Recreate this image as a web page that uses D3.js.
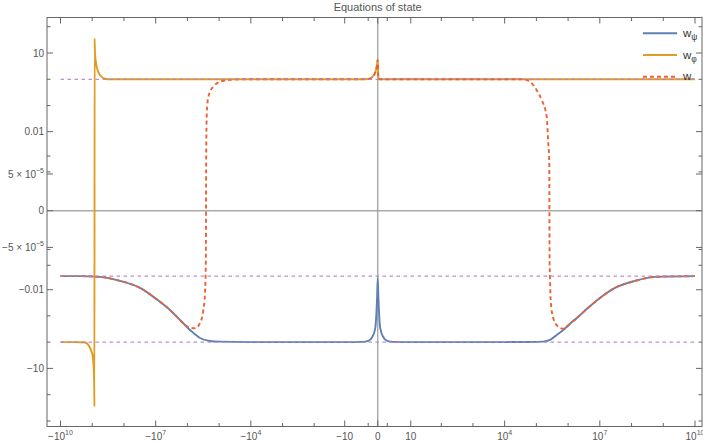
<!DOCTYPE html>
<html><head><meta charset="utf-8">
<script src="https://cdn.jsdelivr.net/npm/d3@7"></script>
<style>body{margin:0;background:#fff} svg{display:block} text{font-family:"Liberation Sans",Arial,sans-serif}</style>
</head><body><svg id="c" width="703" height="442"></svg>
<script>
// ---- tick definitions ----
const xTicksMajor = [-1e10,-1e7,-1e4,-10,0,10,1e4,1e7,1e10];
const xTickLabels = [["−10","10"],["−10","7"],["−10","4"],["−10",""],["0",""],["10",""],["10","4"],["10","7"],["10","10"]];
const xTicksMinor = [-1e9,-1e8,-1e6,-1e5,-1e3,-100,-1,1,100,1e3,1e5,1e6,1e8,1e9];
const yTicksMajor = [10,0.01,5e-5,0,-5e-5,-0.01,-10];
const yTickLabels = [["10",""],["0.01",""],["5 × 10","−5"],["0",""],["−5 × 10","−5"],["−0.01",""],["−10",""]];
const yTicksMinor = [100,1,0.1,1e-3,1e-4,-1e-4,-1e-3,-0.1,-1,-100,-1000];
const refLevels = [1,-0.0029,-1];

// ---- series ----
const psiX = [-1e10,-2.43e9,-5.69e8,-1.33e8,-3.12e7,-1.05e7,-3.53e6,-1.71e6,-1.19e6,-8.28e5,-5.75e5,-4.01e5,-1.94e5,-9.4e4,-1e4,-1e3,-10,-2,-1,-0.5,-0.2,-0.05,0,0.05,0.2,0.5,1,2,10,1e3,1e4,6.3e4,1.62e5,2.8e5,4.38e5,7.07e5,1.15e6,1.9e6,3.86e6,1.01e7,3.0e7,1.29e8,5.5e8,1e10];
const psiW = [-0.0029,-0.0029,-0.0031,-0.0045,-0.0085,-0.0208,-0.060,-0.144,-0.223,-0.346,-0.50,-0.70,-0.906,-0.96,-0.997,-1,-1,-0.98,-0.9,-0.65,-0.3,-0.02,-0.0034,-0.02,-0.3,-0.65,-0.9,-0.98,-1,-1,-0.998,-0.99,-0.96,-0.8,-0.536,-0.346,-0.2,-0.12,-0.055,-0.0208,-0.0085,-0.0045,-0.0031,-0.0029];

const phiX = [-1e10,-3.49e9,-1.69e9,-1.26e9,-1.05e9,-9.66e8,-8.98e8,-8.66e8,-8.53e8,-8.41e8,-8.18e8,-7.23e8,-5.69e8,-3.96e8,-2.75e8,-1e7,-1e3,-2.6,-0.76,-0.41,-0.22,-0.095,-0.018,0,0.05,0.3,10,1e4,1e7,1e10];
const phiW = [-1,-1,-1.03,-1.4,-2.3,-3.5,-10,-50,-285,36,9.7,3.0,1.45,1.05,1.0,1,1,1,1.05,1.33,1.73,2.7,4.95,5.4,1.02,1,1,1,1,1];

const wX = [-1e10,-2.43e9,-5.69e8,-1.33e8,-3.12e7,-1.05e7,-3.53e6,-1.71e6,-1.11e6,-8.28e5,-5.75e5,-4.01e5,-3.15e5,-2.79e5,-2.62e5,-2.56e5,-2.50e5,-2.40e5,-2.04e5,-1.53e5,-9.38e4,-6.53e4,-3.16e4,-1e4,-1e3,-2.6,-0.76,-0.41,-0.22,-0.095,-0.018,0,0.05,0.3,10,1e4,3.07e4,4.75e4,6.3e4,7.8e4,1.02e5,1.47e5,2.11e5,2.37e5,2.55e5,2.61e5,2.68e5,2.82e5,3.41e5,4.9e5,7.05e5,1.15e6,1.9e6,3.86e6,1.01e7,3.0e7,1.29e8,5.5e8,1e10];
const wW = [-0.0029,-0.0029,-0.0031,-0.0045,-0.0085,-0.0208,-0.060,-0.144,-0.24,-0.285,-0.298,-0.19,-0.06,-0.0137,-0.0006,0.0007,0.0155,0.09,0.29,0.52,0.81,0.9,0.98,1,1,1,1.05,1.33,1.73,2.7,4.95,5.4,1.02,1,1,1,1,0.95,0.81,0.62,0.39,0.163,0.038,0.0035,0.0006,-0.0006,-0.0031,-0.025,-0.124,-0.26,-0.31,-0.2,-0.12,-0.055,-0.0208,-0.0085,-0.0045,-0.0031,-0.0029];

const legendItems = [["w","ψ","#5e81b5",null],["w","φ","#e19c24",null],["w","","#eb6235","4,3"]];

// ---- layout ----
const L=47, R=702, T=17.5, B=426.5;
const svg = d3.select("#c");
const x = d3.scaleSymlog().constant(1).domain([-1e10,1e10]).range([60.5,695]);
const Y0 = 210.7, JUMP = 34.15;
const yMag = d3.scaleSymlog().constant(2e-4).domain([0,10]).range([0,123.55]);
const y = v => v===0 ? Y0 : Y0 - Math.sign(v)*(JUMP + yMag(Math.abs(v)));

svg.append("defs").append("clipPath").attr("id","clip").append("rect")
  .attr("x",L).attr("y",T).attr("width",R-L).attr("height",B-T);

// axes lines at zero
svg.append("line").attr("x1",L).attr("x2",R).attr("y1",Y0).attr("y2",Y0).attr("stroke","#aaa").attr("stroke-width",1.5);
svg.append("line").attr("x1",x(0)).attr("x2",x(0)).attr("y1",T).attr("y2",B).attr("stroke","#999").attr("stroke-width",1.2);

const g = svg.append("g").attr("clip-path","url(#clip)");
const line = d3.line().x(d=>x(d[0])).y(d=>y(d[1])).curve(d3.curveMonotoneX);
const zip = (a,b)=>a.map((v,i)=>[v,b[i]]);

g.append("path").attr("d",line(zip(psiX,psiW))).attr("fill","none").attr("stroke","#5e81b5").attr("stroke-width",1.9);
g.append("path").attr("d",line(zip(phiX,phiW))).attr("fill","none").attr("stroke","#e19c24").attr("stroke-width",1.9);
g.append("path").attr("d",line(zip(wX,wW))).attr("fill","none").attr("stroke","#eb6235").attr("stroke-width",1.9).attr("stroke-dasharray","4,3");

refLevels.forEach(v=>{
  g.append("line").attr("x1",x(-1e10)).attr("x2",x(1e10)).attr("y1",y(v)).attr("y2",y(v))
   .attr("stroke","#b783c6").attr("stroke-width",1.2).attr("stroke-dasharray","3.5,3.5").attr("opacity",0.9);
});

// frame
svg.append("rect").attr("x",L).attr("y",T).attr("width",R-L).attr("height",B-T).attr("fill","none").attr("stroke","#666").attr("stroke-width",1);

const tk = svg.append("g").attr("stroke","#666").attr("stroke-width",1);
xTicksMajor.forEach(v=>{ const px=x(v);
  tk.append("line").attr("x1",px).attr("x2",px).attr("y1",B).attr("y2",B-6);
  tk.append("line").attr("x1",px).attr("x2",px).attr("y1",T).attr("y2",T+6); });
xTicksMinor.forEach(v=>{ const px=x(v);
  tk.append("line").attr("x1",px).attr("x2",px).attr("y1",B).attr("y2",B-3.5);
  tk.append("line").attr("x1",px).attr("x2",px).attr("y1",T).attr("y2",T+3.5); });
yTicksMajor.forEach(v=>{ const py=y(v);
  tk.append("line").attr("x1",L).attr("x2",L+6).attr("y1",py).attr("y2",py);
  tk.append("line").attr("x1",R).attr("x2",R-6).attr("y1",py).attr("y2",py); });
yTicksMinor.forEach(v=>{ const py=y(v);
  tk.append("line").attr("x1",L).attr("x2",L+3.5).attr("y1",py).attr("y2",py);
  tk.append("line").attr("x1",R).attr("x2",R-3.5).attr("y1",py).attr("y2",py); });

// labels
xTicksMajor.forEach((v,i)=>{
  const t = svg.append("text").attr("x",x(v)).attr("y",440).attr("text-anchor","middle").attr("font-size",10).attr("fill","#555");
  t.append("tspan").text(xTickLabels[i][0]);
  if(xTickLabels[i][1]) t.append("tspan").attr("dy",-5).attr("font-size",7).text(xTickLabels[i][1]);
});
yTicksMajor.forEach((v,i)=>{
  const t = svg.append("text").attr("x",44).attr("y",y(v)+3.5).attr("text-anchor","end").attr("font-size",10).attr("fill","#555");
  t.append("tspan").text(yTickLabels[i][0]);
  if(yTickLabels[i][1]) t.append("tspan").attr("dy",-5).attr("font-size",7).text(yTickLabels[i][1]);
});

svg.append("text").attr("x",377.7).attr("y",11).attr("text-anchor","middle").attr("font-size",11).attr("fill","#555").text("Equations of state");

// legend
legendItems.forEach((d,i)=>{
  const ly = 33.3 + i*21.7;
  svg.append("line").attr("x1",643).attr("x2",677).attr("y1",ly).attr("y2",ly).attr("stroke",d[2]).attr("stroke-width",1.9).attr("stroke-dasharray",d[3]);
  const t = svg.append("text").attr("x",683).attr("y",ly+3.5).attr("font-size",11.5).attr("fill","#333");
  t.append("tspan").text(d[0]);
  if(d[1]) t.append("tspan").attr("dy",3).attr("font-size",8.5).text(d[1]);
});
</script></body></html>
